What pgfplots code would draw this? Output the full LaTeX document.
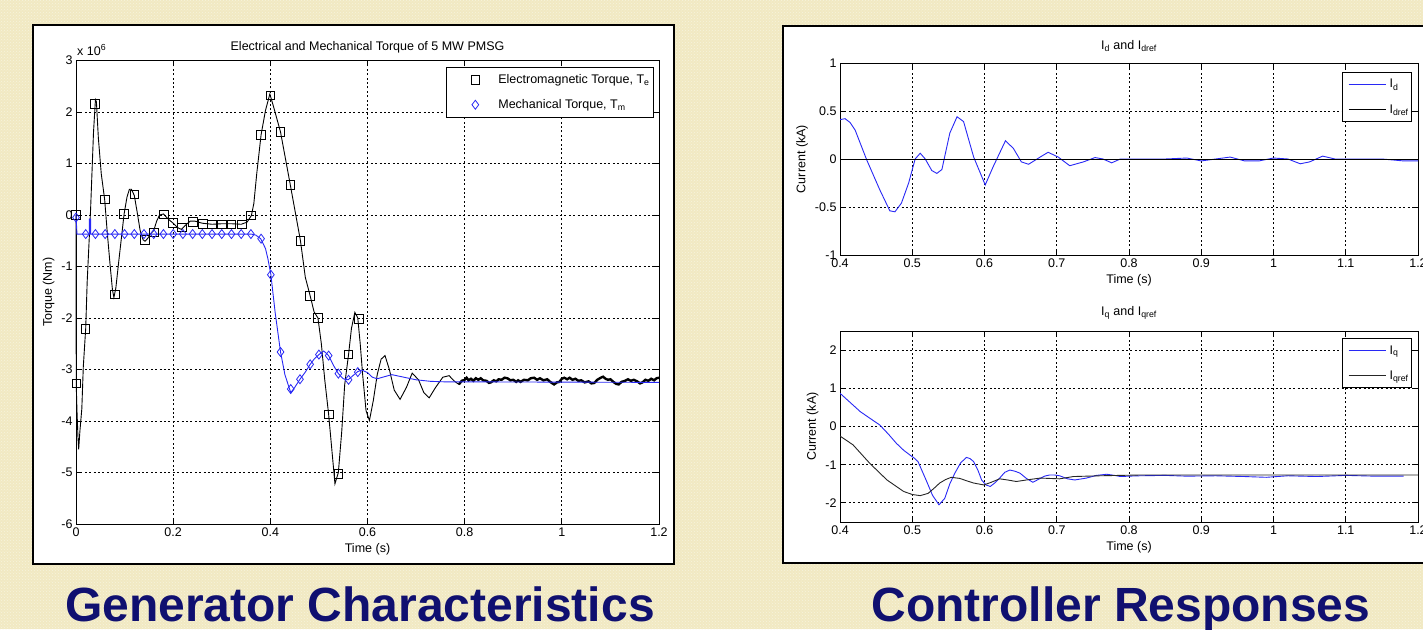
\documentclass[border=0pt]{standalone}
\usepackage{fontspec}
\setmainfont{Liberation Sans}
\usepackage{pgfplots}
\pgfplotsset{compat=1.18}
\usetikzlibrary{patterns}
\definecolor{bgbeige}{RGB}{241,233,194}
\definecolor{capblue}{RGB}{16,16,112}
\definecolor{mblue}{RGB}{40,40,245}
\newcommand{\mfont}{\fontsize{12.5}{14}\selectfont}

\pgfplotsset{
  mlab/.style={
    scale only axis, anchor=south west,
    axis line style={black, line width=0.8pt},
    grid=major,
    grid style={black, line width=0.8pt, dash pattern=on 2pt off 2.4pt},
    tick align=inside, major tick length=5pt,
    tick style={black, line width=0.8pt},
    tick label style={font=\mfont},
    label style={font=\mfont},
    title style={font=\mfont},
    axis background/.style={fill=white},
    legend cell align=left,
  },
}

\begin{document}
\begin{tikzpicture}[x=1pt,y=1pt]
\useasboundingbox (0,0) rectangle (1423,629);
\clip (0,0) rectangle (1423,629);
\fill[bgbeige] (0,0) rectangle (1423,629);
\fill[pattern=crosshatch dots, pattern color=white!45!bgbeige] (0,0) rectangle (1423,629);

% panels
\draw[fill=white, line width=1.6pt] (33,65) rectangle (674,604);
\draw[fill=white, line width=1.6pt] (783,66) rectangle (1440,603);

% captions
\node[anchor=base, font=\fontsize{48}{52}\selectfont\bfseries, text=capblue] at (360,8) {Generator Characteristics};
\node[anchor=base, font=\fontsize{48}{52}\selectfont\bfseries, text=capblue] at (1121,8) {Controller Responses};

% ---------------- torque
\begin{axis}[mlab, clip=false,
  at={(76pt,105pt)}, width=583pt, height=463.5pt,
  xmin=0, xmax=1.2, ymin=-6, ymax=3,
  xtick={0,0.2,0.4,0.6,0.8,1,1.2}, xticklabels={0,0.2,0.4,0.6,0.8,1,1.2},
  ytick={-6,-5,-4,-3,-2,-1,0,1,2,3}, yticklabels={-6,-5,-4,-3,-2,-1,0,1,2,3},
  title={Electrical and Mechanical Torque of 5 MW PMSG},
  title style={yshift=-2pt},
  xlabel={Time (s)}, ylabel={Torque (Nm)},
  legend image code/.code={\path[draw=none,fill=none] (0pt,0pt) -- (48pt,0pt);
    \draw[#1] plot coordinates {(27pt,0pt)};},
  legend style={at={(1,1)}, anchor=north east, xshift=-5pt, yshift=-7pt,
    draw=black, line width=0.8pt, fill=white, font=\mfont,
    row sep=10pt, inner xsep=2pt, inner ysep=5pt},
]
\addplot[black, line width=0.9pt, forget plot] coordinates {
(0,0)(0.0005,-3.3)(0.002,-3.8)(0.004,-4.3)(0.0055,-4.55)(0.008,-4.2)(0.012,-3.76)
(0.015,-2.95)(0.02,-2.2)(0.023,-1.3)(0.03,0.1)(0.036,1.6)(0.04,2.24)(0.042,2.2)
(0.046,1.5)(0.052,0.8)(0.059,0.3)(0.064,-0.3)(0.07,-0.95)(0.075,-1.45)(0.078,-1.6)
(0.082,-1.42)(0.088,-0.9)(0.094,-0.4)(0.099,0.02)(0.105,0.35)(0.11,0.5)(0.114,0.5)
(0.12,0.38)(0.126,0.05)(0.132,-0.3)(0.138,-0.48)(0.142,-0.51)(0.148,-0.45)(0.155,-0.35)
(0.16,-0.3)(0.166,-0.12)(0.172,0.0)(0.18,0.02)(0.19,-0.08)(0.2,-0.16)(0.21,-0.25)
(0.217,-0.28)(0.225,-0.2)(0.235,-0.12)(0.245,-0.12)(0.26,-0.16)(0.28,-0.18)(0.3,-0.17)
(0.32,-0.17)(0.34,-0.18)(0.352,-0.14)(0.361,-0.01)(0.366,0.22)(0.372,0.8)(0.381,1.56)
(0.39,2.03)(0.399,2.35)(0.407,2.09)(0.421,1.61)(0.441,0.59)(0.462,-0.5)(0.472,-1.21)
(0.482,-1.57)(0.49,-1.88)(0.498,-2.0)(0.505,-2.5)(0.512,-3.2)(0.52,-3.87)(0.527,-4.6)
(0.533,-5.22)(0.54,-5.0)(0.547,-4.2)(0.553,-3.3)(0.561,-2.71)(0.567,-2.2)(0.574,-1.89)
(0.58,-2.0)(0.585,-2.5)(0.59,-3.1)(0.597,-3.8)(0.604,-3.99)(0.612,-3.6)(0.62,-3.1)
(0.628,-2.8)(0.636,-2.73)(0.645,-3.0)(0.655,-3.4)(0.667,-3.58)(0.68,-3.35)(0.692,-3.07)
(0.705,-3.2)(0.716,-3.45)(0.727,-3.55)(0.74,-3.35)(0.755,-3.15)(0.768,-3.12)(0.778,-3.22)
(0.788,-3.29)
};
% noisy steady state, drawn heavier
\addplot[black, line width=2.4pt, forget plot] coordinates {
(0.788,-3.29)(0.794,-3.22)(0.8,-3.2)(0.804,-3.16)(0.808,-3.21)(0.813,-3.18)(0.818,-3.22)
(0.823,-3.17)(0.828,-3.2)(0.833,-3.17)(0.838,-3.21)(0.845,-3.22)(0.85,-3.26)(0.854,-3.25)
(0.86,-3.21)(0.865,-3.23)(0.87,-3.19)(0.876,-3.2)(0.882,-3.16)(0.888,-3.17)(0.894,-3.21)
(0.9,-3.2)(0.906,-3.24)(0.91,-3.21)(0.915,-3.24)(0.922,-3.2)(0.93,-3.21)(0.936,-3.17)
(0.943,-3.16)(0.949,-3.2)(0.955,-3.17)(0.962,-3.21)(0.97,-3.19)(0.976,-3.24)(0.984,-3.29)
(0.99,-3.25)(0.995,-3.24)(1.0,-3.18)(1.005,-3.16)(1.011,-3.19)(1.016,-3.16)(1.022,-3.2)
(1.028,-3.18)(1.034,-3.22)(1.04,-3.21)(1.047,-3.25)(1.055,-3.23)(1.061,-3.27)(1.067,-3.26)
(1.073,-3.2)(1.08,-3.16)(1.085,-3.14)(1.09,-3.18)(1.095,-3.2)(1.1,-3.19)(1.106,-3.24)
(1.112,-3.28)(1.117,-3.29)(1.123,-3.24)(1.13,-3.22)(1.136,-3.19)(1.142,-3.22)(1.148,-3.2)
(1.155,-3.23)(1.161,-3.27)(1.166,-3.25)(1.172,-3.2)(1.178,-3.22)(1.184,-3.18)(1.19,-3.21)
(1.195,-3.17)(1.2,-3.16)
};
\addplot[only marks, black, mark=square, mark size=4.3pt, mark options={line width=0.8pt}] coordinates {
(0,0)(0.0005,-3.27)(0.019,-2.21)(0.039,2.16)(0.059,0.30)(0.08,-1.54)(0.099,0.02)
(0.12,0.40)(0.142,-0.48)(0.16,-0.34)(0.181,0.01)(0.2,-0.15)(0.218,-0.24)(0.24,-0.13)
(0.261,-0.17)(0.28,-0.18)(0.3,-0.18)(0.32,-0.18)(0.341,-0.18)(0.36,-0.01)(0.381,1.56)
(0.4,2.32)(0.421,1.61)(0.441,0.59)(0.462,-0.5)(0.482,-1.57)(0.498,-2.0)(0.52,-3.87)
(0.54,-5.03)(0.561,-2.71)(0.582,-2.02)
};
\addlegendentry{Electromagnetic Torque, T\textsubscript{e}}
\addplot[mblue, line width=0.9pt, forget plot] coordinates {
(0,0)(0.002,-0.37)(0.0274,-0.37)(0.0275,-0.08)(0.03,-0.08)(0.0301,-0.37)(0.36,-0.37)
(0.37,-0.39)(0.38,-0.46)(0.39,-0.65)(0.395,-0.85)(0.401,-1.15)(0.41,-1.9)(0.421,-2.66)
(0.43,-3.1)(0.442,-3.45)(0.45,-3.35)(0.461,-3.19)(0.472,-3.05)(0.482,-2.9)(0.49,-2.8)
(0.5,-2.71)(0.51,-2.64)(0.52,-2.73)(0.53,-2.92)(0.54,-3.08)(0.55,-3.18)(0.56,-3.2)
(0.57,-3.12)(0.58,-3.04)(0.588,-3.01)(0.6,-3.06)(0.61,-3.15)(0.62,-3.18)(0.635,-3.14)
(0.65,-3.1)(0.67,-3.14)(0.7,-3.2)(0.73,-3.23)(0.76,-3.24)(0.8,-3.24)(1.2,-3.25)
};
\addplot[only marks, mblue, mark=diamond, mark size=4.5pt, mark options={line width=0.8pt}] coordinates {
(0,-0.05)(0.02,-0.37)(0.04,-0.37)(0.06,-0.37)(0.08,-0.37)(0.1,-0.37)(0.12,-0.37)
(0.14,-0.37)(0.16,-0.37)(0.18,-0.37)(0.2,-0.37)(0.22,-0.37)(0.24,-0.37)(0.26,-0.37)
(0.28,-0.37)(0.3,-0.37)(0.32,-0.37)(0.34,-0.37)(0.36,-0.37)(0.381,-0.46)(0.401,-1.16)
(0.421,-2.66)(0.442,-3.38)(0.461,-3.19)(0.482,-2.9)(0.5,-2.71)(0.52,-2.73)(0.54,-3.08)
(0.561,-3.2)(0.58,-3.05)
};
\addlegendentry{Mechanical Torque, T\textsubscript{m}}
\node[anchor=south west, font=\mfont, inner sep=1pt, yshift=4pt] at (rel axis cs:0,1) {x 10\textsuperscript{6}};
\end{axis}

% ---------------- Id
\begin{axis}[mlab,
  at={(840pt,374pt)}, width=578pt, height=192pt,
  xmin=0.4, xmax=1.2, ymin=-1, ymax=1,
  xtick={0.4,0.5,0.6,0.7,0.8,0.9,1,1.1,1.2},
  xticklabels={0.4,0.5,0.6,0.7,0.8,0.9,1,1.1,1.2},
  ytick={-1,-0.5,0,0.5,1}, yticklabels={-1,-0.5,0,0.5,1},
  title={I\textsubscript{d} and I\textsubscript{dref}},
  title style={yshift=2pt},
  xlabel={Time (s)}, ylabel={Current (kA)},
  legend image code/.code={\path[draw=none] (0pt,0pt) -- (44pt,0pt);
    \draw[#1] (5pt,0pt) -- (42pt,0pt);},
  legend style={at={(1,1)}, anchor=north east, xshift=-6pt, yshift=-9pt,
    draw=black, line width=0.8pt, fill=white, font=\mfont,
    row sep=11pt, inner xsep=1pt, inner ysep=5pt},
]
\addplot[mblue, line width=0.9pt] coordinates {
(0.4,0.41)(0.407,0.42)(0.414,0.38)(0.421,0.30)(0.437,-0.01)(0.455,-0.32)(0.469,-0.54)
(0.476,-0.55)(0.485,-0.46)(0.495,-0.25)(0.504,0.0)(0.511,0.06)(0.518,0.0)(0.527,-0.12)
(0.534,-0.15)(0.541,-0.11)(0.552,0.27)(0.562,0.44)(0.571,0.39)(0.585,0.02)(0.601,-0.27)
(0.612,-0.08)(0.629,0.19)(0.64,0.11)(0.651,-0.03)(0.661,-0.055)(0.677,0.02)(0.688,0.07)
(0.702,0.02)(0.718,-0.07)(0.737,-0.03)(0.753,0.015)(0.764,0.0)(0.776,-0.04)(0.788,0.0)
(0.8,0.0)(0.85,0.0)(0.88,0.01)(0.9,-0.02)(0.92,0.0)(0.94,0.02)(0.96,-0.02)(0.98,-0.02)
(1.0,0.01)(1.02,0.0)(1.037,-0.05)(1.05,-0.03)(1.068,0.03)(1.085,0.0)(1.1,0.0)(1.15,0.0)
(1.18,-0.02)(1.2,-0.02)
};
\addlegendentry{I\textsubscript{d}}
\addplot[black, line width=0.9pt] coordinates {(0.4,0)(1.2,0)};
\addlegendentry{I\textsubscript{dref}}
\end{axis}

% ---------------- Iq
\begin{axis}[mlab,
  at={(840pt,107pt)}, width=578pt, height=191pt,
  xmin=0.4, xmax=1.2, ymin=-2.5, ymax=2.5,
  xtick={0.4,0.5,0.6,0.7,0.8,0.9,1,1.1,1.2},
  xticklabels={0.4,0.5,0.6,0.7,0.8,0.9,1,1.1,1.2},
  ytick={-2,-1,0,1,2}, yticklabels={-2,-1,0,1,2},
  title={I\textsubscript{q} and I\textsubscript{qref}},
  title style={yshift=2pt},
  xlabel={Time (s)}, ylabel={Current (kA)},
  legend image code/.code={\path[draw=none] (0pt,0pt) -- (44pt,0pt);
    \draw[#1] (5pt,0pt) -- (42pt,0pt);},
  legend style={at={(1,1)}, anchor=north east, xshift=-6pt, yshift=-7pt,
    draw=black, line width=0.8pt, fill=white, font=\mfont,
    row sep=11pt, inner xsep=1pt, inner ysep=5pt},
]
\addplot[mblue, line width=0.9pt] coordinates {
(0.4,0.87)(0.414,0.63)(0.428,0.39)(0.441,0.22)(0.455,0.04)(0.467,-0.2)(0.478,-0.44)
(0.488,-0.62)(0.497,-0.75)(0.503,-0.83)(0.508,-0.92)(0.514,-1.18)(0.52,-1.44)(0.528,-1.8)
(0.537,-2.05)(0.545,-1.88)(0.552,-1.5)(0.559,-1.22)(0.567,-0.95)(0.575,-0.81)(0.58,-0.84)
(0.585,-0.92)(0.591,-1.15)(0.596,-1.40)(0.602,-1.53)(0.608,-1.57)(0.614,-1.48)(0.621,-1.35)
(0.628,-1.2)(0.635,-1.14)(0.642,-1.17)(0.649,-1.22)(0.658,-1.36)(0.667,-1.46)(0.675,-1.38)
(0.683,-1.3)(0.69,-1.27)(0.697,-1.27)(0.704,-1.29)(0.715,-1.37)(0.725,-1.40)(0.741,-1.35)
(0.755,-1.28)(0.769,-1.25)(0.78,-1.28)(0.788,-1.31)(0.8,-1.3)(0.815,-1.29)(0.85,-1.28)
(0.88,-1.30)(0.92,-1.29)(0.96,-1.31)(0.99,-1.33)(1.02,-1.29)(1.06,-1.31)(1.1,-1.28)
(1.14,-1.3)(1.18,-1.3)
};
\addlegendentry{I\textsubscript{q}}
\addplot[black!85, line width=0.9pt] coordinates {
(0.4,-0.25)(0.418,-0.48)(0.441,-0.96)(0.465,-1.40)(0.488,-1.70)(0.5,-1.78)(0.511,-1.81)
(0.522,-1.75)(0.53,-1.62)(0.538,-1.48)(0.546,-1.39)(0.554,-1.33)(0.566,-1.36)(0.575,-1.42)
(0.585,-1.48)(0.599,-1.53)(0.608,-1.47)(0.621,-1.37)(0.632,-1.4)(0.644,-1.44)(0.658,-1.40)
(0.677,-1.35)(0.704,-1.37)(0.723,-1.31)(0.76,-1.29)(0.815,-1.27)(1.2,-1.27)
};
\addlegendentry{I\textsubscript{qref}}
\end{axis}
\end{tikzpicture}
\end{document}
